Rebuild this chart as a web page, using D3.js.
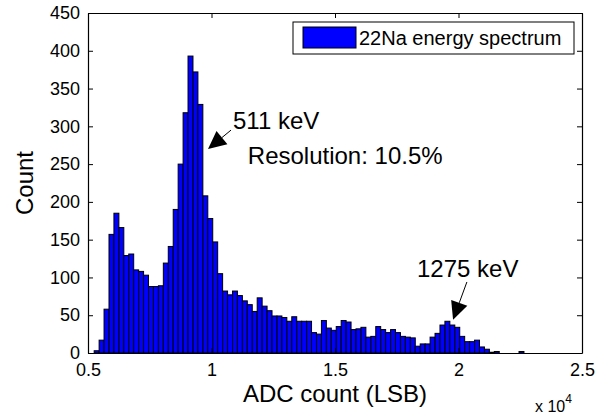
<!DOCTYPE html>
<html lang="en">
<head>
  <meta charset="UTF-8">
  <title>22Na energy spectrum</title>
  <style>
    body { margin: 0; background: #fff; }
    text { font-family: "Liberation Sans", Arial, sans-serif; fill: #000; }
  </style>
</head>
<body>
<script src="https://d3js.org/d3.v7.min.js"></script>
<div id="chart"></div>
<script>
// ---- data ----
const binStart = 5250;   // left edge of first bin, ADC counts
const binWidth = 200;    // ADC counts per bin
const counts = [
  3, 17, 58, 157, 185, 166, 129, 131, 110, 108,
  103, 88, 88, 89, 119, 141, 190, 250, 318, 393,
  372, 329, 208, 178, 147, 105, 82, 77, 82, 76,
  69, 64, 55, 73, 62, 56, 49, 49, 47, 42,
  48, 42, 42, 42, 27, 25, 43, 33, 30, 35,
  43, 41, 31, 32, 34, 21, 22, 35, 31, 27,
  31, 27, 22, 21, 20, 9, 12, 12, 21, 26,
  37, 42, 37, 34, 22, 15, 15, 17, 8, 5,
  1, 2, 0, 0, 0, 0, 2, 0, 0, 0,
  0, 0, 0, 0, 0, 0, 0, 0
];
const xTicks = [5000, 10000, 15000, 20000, 25000];
const yTicks = [0, 50, 100, 150, 200, 250, 300, 350, 400, 450];
const legendLabel = "22Na energy spectrum";
// annotations, positions in data units (ADC count, Count)
const peaks = [
  {label: "511 keV", tx: 10870, ty: 297, from: [10790, 295], to: [9860, 270]},
  {label: "1275 keV", tx: 18320, ty: 100, from: [20340, 94], to: [19780, 44]}
];
const resolutionLabel = "Resolution: 10.5%";

// ---- layout ----
const W = 608, H = 417;
const plot = {left: 88, right: 582, top: 13, bottom: 353};

const svg = d3.select("#chart").append("svg")
  .attr("width", W).attr("height", H);

const x = d3.scaleLinear().domain([5000, 25000]).range([plot.left, plot.right]);
const y = d3.scaleLinear().domain([0, 450]).range([plot.bottom, plot.top]);

// bars
const bins = counts.map((c, i) => ({x0: binStart + i * binWidth, x1: binStart + (i + 1) * binWidth, n: c}));
svg.append("g")
  .selectAll("rect")
  .data(bins)
  .join("rect")
    .attr("x", d => x(d.x0))
    .attr("width", d => x(d.x1) - x(d.x0))
    .attr("y", d => y(d.n))
    .attr("height", d => y(0) - y(d.n))
    .attr("fill", "#0000ff")
    .attr("stroke", "#000")
    .attr("stroke-width", 1);

// axes, MATLAB style: ticks inside on all four sides
const tl = 5;
const fmt = d => d3.format("~g")(d / 1e4);
svg.append("g").attr("transform", `translate(0,${plot.bottom})`)
  .call(d3.axisBottom(x).tickValues(xTicks).tickFormat(fmt).tickSize(-tl).tickSizeOuter(0).tickPadding(10));
svg.append("g").attr("transform", `translate(0,${plot.top})`)
  .call(d3.axisTop(x).tickValues(xTicks).tickFormat("").tickSize(-tl).tickSizeOuter(0));
svg.append("g").attr("transform", `translate(${plot.left},0)`)
  .call(d3.axisLeft(y).tickValues(yTicks).tickSize(-tl).tickSizeOuter(0).tickPadding(8));
svg.append("g").attr("transform", `translate(${plot.right},0)`)
  .call(d3.axisRight(y).tickValues(yTicks).tickFormat("").tickSize(-tl).tickSizeOuter(0));

svg.selectAll(".domain").attr("stroke", "#000").attr("stroke-width", 1.2);
svg.selectAll(".tick line").attr("stroke", "#000");
svg.selectAll(".tick text").attr("font-size", 18).attr("fill", "#000")
  .attr("font-family", "'Liberation Sans', Arial, sans-serif");

// axis labels
svg.append("text")
  .attr("x", (plot.left + plot.right) / 2).attr("y", 402)
  .attr("text-anchor", "middle").attr("font-size", 24)
  .text("ADC count (LSB)");
svg.append("text")
  .attr("transform", `translate(33,${(plot.top + plot.bottom) / 2}) rotate(-90)`)
  .attr("text-anchor", "middle").attr("font-size", 24)
  .text("Count");
const expo = svg.append("text").attr("x", 535).attr("y", 412).attr("font-size", 16);
expo.append("tspan").text("x 10");
expo.append("tspan").attr("dy", -9).attr("font-size", 12).text("4");

// legend
const lg = svg.append("g");
lg.append("rect").attr("x", 293).attr("y", 22).attr("width", 281).attr("height", 32)
  .attr("fill", "#fff").attr("stroke", "#000");
lg.append("rect").attr("x", 303).attr("y", 27).attr("width", 53).attr("height", 21)
  .attr("fill", "#0000ff").attr("stroke", "#000");
lg.append("text").attr("x", 359).attr("y", 45).attr("font-size", 20).text(legendLabel);

// annotations with filled arrowheads
function arrow(p0, p1) {
  const dx = p1[0] - p0[0], dy = p1[1] - p0[1];
  const len = Math.hypot(dx, dy), ux = dx / len, uy = dy / len;
  const hl = 18, hw = 8.6;
  const bx = p1[0] - ux * hl, by = p1[1] - uy * hl;
  svg.append("line")
    .attr("x1", p0[0]).attr("y1", p0[1]).attr("x2", bx).attr("y2", by)
    .attr("stroke", "#000").attr("stroke-width", 1);
  svg.append("path")
    .attr("d", `M${p1[0]},${p1[1]}L${bx - uy * hw},${by + ux * hw}L${bx + uy * hw},${by - ux * hw}Z`)
    .attr("fill", "#000");
}
peaks.forEach(p => {
  svg.append("text").attr("x", x(p.tx)).attr("y", y(p.ty)).attr("font-size", 24).text(p.label);
  arrow([x(p.from[0]), y(p.from[1])], [x(p.to[0]), y(p.to[1])]);
});
svg.append("text").attr("x", x(11470)).attr("y", y(250)).attr("font-size", 24).text(resolutionLabel);
</script>
</body>
</html>
